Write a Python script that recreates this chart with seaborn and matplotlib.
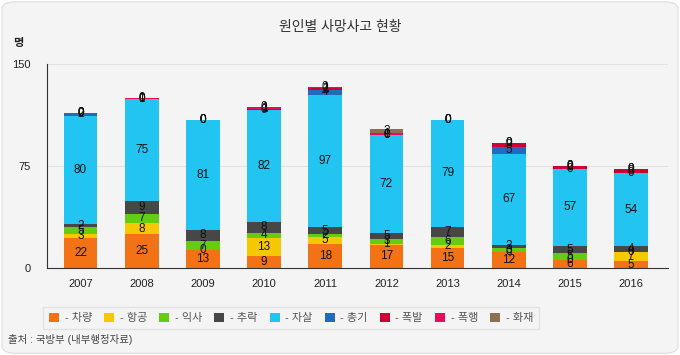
import numpy as np
import pandas as pd
import seaborn as sns
import matplotlib.pyplot as plt
from matplotlib.patches import Patch, FancyBboxPatch

years = ['2007', '2008', '2009', '2010', '2011', '2012', '2013', '2014', '2015', '2016']
causes = ['차량', '항공', '익사', '추락', '자살', '총기', '폭발', '폭행', '화재']
car      = [22, 25, 13,  9, 18, 17, 15, 12,  6,  5]
air      = [ 3,  8,  0, 13,  5,  1,  2,  0,  0,  7]
drown    = [ 5,  7,  7,  4,  2,  3,  6,  3,  5,  0]
fall     = [ 2,  9,  8,  8,  5,  5,  7,  2,  5,  4]
suicide  = [80, 75, 81, 82, 97, 72, 79, 67, 57, 54]
gun      = [ 2,  0,  0,  0,  4,  0,  0,  5,  0,  0]
explode  = [ 0,  0,  0,  1,  1,  0,  0,  3,  2,  3]
assault  = [ 0,  1,  0,  1,  1,  1,  0,  0,  0,  0]
fire     = [ 0,  0,  0,  0,  0,  3,  0,  0,  0,  0]
colors = ['#f47216', '#f5c800', '#66cc11', '#474747', '#22c4f2',
          '#1f6bbd', '#cc0036', '#ee0a5a', '#8c7150']

series = [car, air, drown, fall, suicide, gun, explode, assault, fire]
df = pd.DataFrame(dict(zip(causes, series)), index=years)
cum = df.cumsum(axis=1)

sns.set_style('white')
plt.rcParams['font.family'] = ['Liberation Sans', 'Noto Sans CJK KR', 'DejaVu Sans']

fig = plt.figure(figsize=(6.8, 3.55), dpi=100)
fig.patch.set_facecolor('white')
fig.patches.append(FancyBboxPatch((0.003, 0.005), 0.994, 0.99, boxstyle='round,pad=0,rounding_size=0.02',
                                  transform=fig.transFigure, facecolor='#f4f4f4',
                                  edgecolor='#dddddd', linewidth=0.8, zorder=-10))
ax = fig.add_axes([0.069, 0.245, 0.913, 0.575])
ax.set_facecolor('#f4f4f4')

# stacked bars: draw cumulative totals from the top layer down
for i in range(len(causes) - 1, -1, -1):
    d = pd.DataFrame({'year': years, 'v': cum.iloc[:, i].values})
    sns.barplot(data=d, x='year', y='v', color=colors[i], saturation=1,
                width=0.55, linewidth=0, ax=ax)

for j, y in enumerate(years):
    for i, c in enumerate(causes):
        top = cum.loc[y, c]
        mid = top - df.loc[y, c] / 2
        ax.text(j, mid, str(df.loc[y, c]), ha='center', va='center', fontsize=8.5, color='#111111')

ax.set_ylim(0, 150)
ax.set_xlim(-0.55, 9.6)
ax.set_yticks([0, 75, 150])
ax.yaxis.grid(True, color='#e2e2e2', linewidth=0.8)
ax.set_axisbelow(True)
for s in ['top', 'right']:
    ax.spines[s].set_visible(False)
ax.spines['left'].set_color('#333333')
ax.spines['bottom'].set_color('#333333')
ax.set_xlabel('')
ax.set_ylabel('')
ax.tick_params(axis='both', length=0, labelsize=8, colors='#222222')
ax.tick_params(axis='x', pad=8)
ax.tick_params(axis='y', pad=12)

fig.text(0.5, 0.925, '원인별 사망사고 현황', ha='center', va='center', fontsize=10, color='#333333')
fig.text(0.027, 0.88, '명', ha='center', va='center', fontsize=8, color='#222222', fontweight='bold')
fig.text(0.012, 0.045, '출처 : 국방부 (내부행정자료)', ha='left', va='center', fontsize=7.5, color='#444444')

handles = [Patch(facecolor=colors[i], edgecolor='none', label='- ' + c) for i, c in enumerate(causes)]
leg = fig.legend(handles=handles, ncol=9, loc='center', bbox_to_anchor=(0.428, 0.104),
                 fontsize=8, frameon=True, handlelength=0.9, handleheight=0.9,
                 handletextpad=0.5, columnspacing=1.1, borderpad=0.55, fancybox=False)
leg.get_frame().set_facecolor('#f4f4f4')
leg.get_frame().set_edgecolor('#dddddd')
for t in leg.get_texts():
    t.set_color('#555555')

fig.savefig('out.png', dpi=100, facecolor=fig.get_facecolor())
